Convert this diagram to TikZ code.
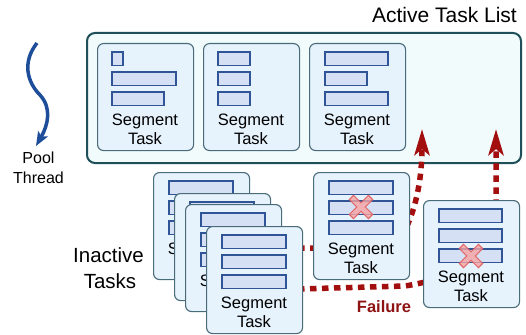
\documentclass[tikz,border=0pt]{standalone}
\usepackage{fontspec}
\setmainfont{Liberation Sans}
\usetikzlibrary{arrows.meta}
\definecolor{bigfill}{HTML}{F2FBFC}
\definecolor{bigdraw}{HTML}{1F4F58}
\definecolor{taskfill}{HTML}{E6F2FC}
\definecolor{taskdraw}{HTML}{4A6C7A}
\definecolor{barfill}{HTML}{D6E0F4}
\definecolor{bardraw}{HTML}{2F5597}
\definecolor{darkred}{HTML}{A30E0E}
\definecolor{failtext}{HTML}{8E1414}
\definecolor{threadblue}{HTML}{1E4D99}
\definecolor{xfill}{HTML}{F6A3A3}
\definecolor{xdraw}{HTML}{E06060}
\newcommand\segtask[3]{%
  \node[tbox] (#1) at (#2,#3) {};
  \node[lbl] (#1s) at (#2+48,#3+82) {Segment};
  \node[lbl] (#1t) at (#2+48,#3+101) {Task};
}
\newcommand\segbars[5]{%
  \draw[segbar] (#1,#2) rectangle ++(#3,13.5);
  \draw[segbar] (#1,#2+20) rectangle ++(#4,13.5);
  \draw[segbar] (#1,#2+40) rectangle ++(#5,13.5);
}
\newcommand\failx[2]{%
  \draw[xmark, shift={(#1,#2)}, rotate=45] (-13.5,-3) -- (-3,-3) -- (-3,-13.5) -- (3,-13.5) -- (3,-3) -- (13.5,-3) -- (13.5,3) -- (3,3) -- (3,13.5) -- (-3,13.5) -- (-3,3) -- (-13.5,3) -- cycle;
}
\begin{document}
\begin{tikzpicture}[x=1pt,y=-1pt,
  tbox/.style={draw=taskdraw, fill=taskfill, line width=1.1pt, rounded corners=6pt, minimum width=96pt, minimum height=107pt, anchor=north west, inner sep=0pt},
  segbar/.style={draw=bardraw, fill=barfill, line width=1.1pt},
  lbl/.style={font=\fontsize{16.5}{19}\selectfont, inner sep=0pt, anchor=base},
  biglbl/.style={font=\fontsize{20.5}{24}\selectfont, inner sep=0pt, anchor=base},
  redpath/.style={draw=darkred, line width=5.5pt, dash pattern=on 6.5pt off 5.5pt, -{Stealth[length=26pt,width=15pt,inset=6pt]}},
  xmark/.style={draw=xdraw, fill=xfill, fill opacity=0.8, line width=1pt, line join=miter}]
\useasboundingbox (0,0) rectangle (526,334);
% active task list
\node[draw=bigdraw, fill=bigfill, line width=2pt, rounded corners=8pt, minimum width=434pt, minimum height=130pt, anchor=north west, inner sep=0pt] (active) at (86,32) {};
\node[font=\fontsize{21}{25}\selectfont, inner sep=0pt, anchor=base east] (activelbl) at (517,23) {Active Task List};
\segtask{act1}{97}{43}
\segbars{112}{52}{11}{64}{52}
\segtask{act2}{203}{43}
\segbars{218}{52}{32}{32}{32}
\segtask{act3}{309}{43}
\segbars{325}{52}{63}{42}{63}
% pool thread
\draw[threadblue, line width=3.5pt, -{Stealth[length=14pt,width=11pt,inset=3pt]}] (37,43) .. controls (22,62) and (27,82) .. (40,95) .. controls (52,108) and (48,125) .. (36,146);
\node[lbl, font=\fontsize{16}{19}\selectfont] (pool) at (38.5,163) {Pool};
\node[lbl, font=\fontsize{16}{19}\selectfont] (thread) at (38.5,183) {Thread};
% inactive label
\node[biglbl] (inact1) at (108.5,262) {Inactive};
\node[biglbl] (inact2) at (110,288) {Tasks};
% red paths
\coordinate (r1s) at (298,248);
\coordinate (r1e) at (422,129);
\coordinate (r2s) at (298,289);
\coordinate (r2e) at (496,129);
\draw[redpath] (r1s) -- (390,248) .. controls (405,240) and (422,200) .. (r1e);
\draw[redpath] (r2s) -- (405,286) .. controls (430,282) and (496,270) .. (496,200) -- (r2e);
% inactive stack
\segtask{inA}{153}{172}
\segbars{169}{181}{64}{64}{64}
\segtask{inB}{174}{193}
\segbars{190}{202}{64}{64}{64}
\segtask{inC}{185}{204}
\segbars{201}{213}{64}{64}{64}
\segtask{inD}{206}{226}
\segbars{222}{235}{64}{64}{64}
% failed tasks
\segtask{failA}{313}{172}
\segbars{329}{181}{64}{64}{64}
\failx{361}{207}
\segtask{failB}{423}{200}
\segbars{439}{209}{63}{63}{63}
\failx{471}{256}
\node[lbl, font=\fontsize{16.5}{19}\selectfont\bfseries, text=failtext] (failure) at (384,312) {Failure};
\end{tikzpicture}
\end{document}
